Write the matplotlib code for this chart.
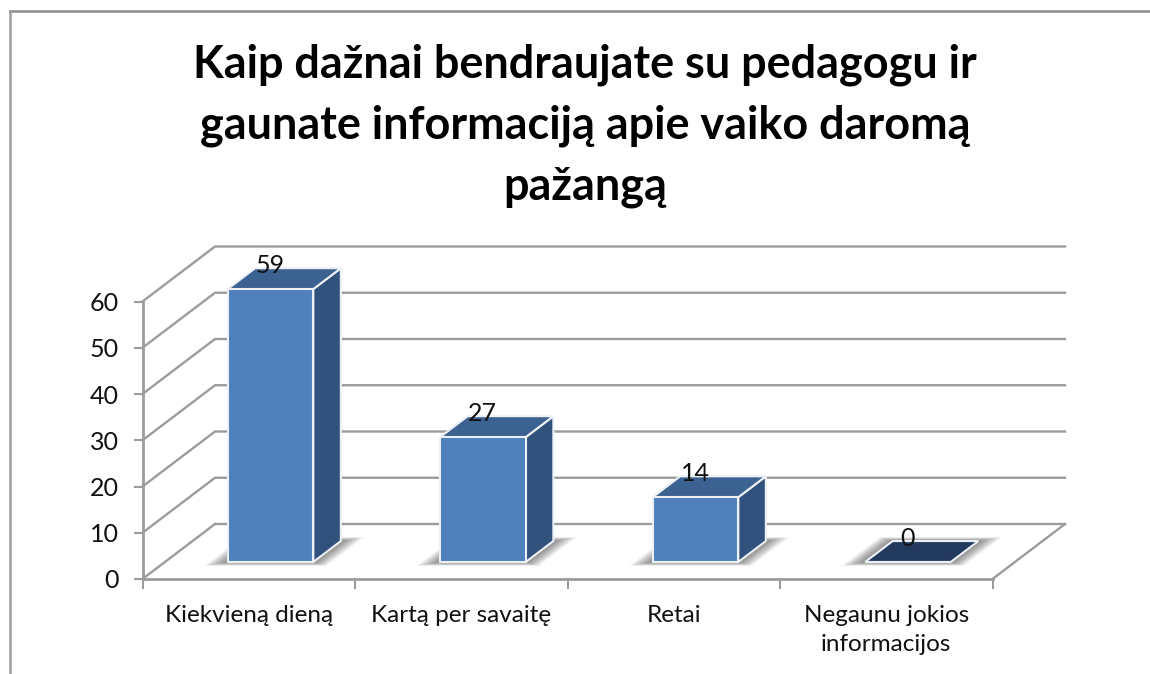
import matplotlib
matplotlib.use("Agg")
import matplotlib.pyplot as plt
from matplotlib.patches import Polygon
from matplotlib.lines import Line2D

plt.rcParams['font.family'] = ['Lato', 'DejaVu Sans']

title_text = "Kaip dažnai bendraujate su pedagogu ir\ngaunate informaciją apie vaiko daromą\npažangą"
categories = ["Kiekvieną dieną", "Kartą per savaitę", "Retai", "Negaunu jokios\ninformacijos"]
values = [59, 27, 14, 0]
y_ticks = [0, 10, 20, 30, 40, 50, 60]

W, H = 1150, 674
fig = plt.figure(figsize=(W / 100, H / 100), dpi=100, facecolor="white")

# axes rectangle is the front plane of the fake-3D chart
L, R, T, B = 142.5, 992.5, 301.5, 579.0
ax = fig.add_axes([L / W, 1 - B / H, (R - L) / W, (B - T) / H])
ax.set_xlim(0, len(categories))
ax.set_ylim(0, 60)
ax.axis("off")

DX = 72.5 / ((R - L) / 4)          # category units for full depth
DY = 55.0 / ((B - T) / 60)         # value units for full depth
GRID = "#9C9C9C"


def P(x, v, d=0.0):
    return (x + d * DX, v + d * DY)


def line(pts, color=GRID, lw=1.7, z=1):
    ax.add_line(Line2D(*zip(*pts), color=color, lw=lw, clip_on=False, zorder=z,
                       solid_capstyle="projecting"))


def poly(pts, z, **kw):
    ax.add_patch(Polygon(pts, closed=True, clip_on=False, zorder=z, **kw))


# gridlines on wall and side wall
n = len(categories)
for t in y_ticks:
    if t > 0:
        line([P(0, t), P(0, t, 1), P(n, t, 1)])
    ax.annotate(str(t), (0, t), xytext=(-24, -2), textcoords="offset pixels",
                ha="right", va="center", fontsize=18, color="#111111", annotation_clip=False)
    line([P(0, t), P(-0.035, t)], lw=1.5)

# floor and axes
line([P(0, 0), P(0, 0, 1)])
line([P(n, 0), P(n, 0, 1)])
line([P(0, 0, 1), P(n, 0, 1)])
line([P(0, 0), P(n, 0)], lw=2.0)
line([P(0, 0), P(0, 60)], lw=2.0)
for i in range(n + 1):
    line([P(i, 0), (i, -1.9)], lw=1.5)

# bars
x0, x1, d0, d1 = 0.295, 0.698, 0.31, 0.69
EDGE = "#EDF1F7"
LAYERS = 10
for i, v in enumerate(values):
    a, b = i + x0, i + x1
    # soft contact shadow built from stacked translucent outlines
    for k in range(LAYERS):
        f = (LAYERS - 1 - k) / (LAYERS - 1)
        g = f * 0.085
        h = f * 0.07
        poly([P(a - g, 0, d0 - h), P(b + g, 0, d0 - h),
              P(b + g, 0, d1 + h), P(a - g, 0, d1 + h)],
             3, facecolor="#000000", edgecolor="none", alpha=0.06)
    if v == 0:
        poly([P(a, 0, d0), P(b, 0, d0), P(b, 0, d1), P(a, 0, d1)], 4,
             facecolor="#223A5E", edgecolor=EDGE, lw=1.5)
    else:
        poly([P(b, 0, d0), P(b, 0, d1), P(b, v, d1), P(b, v, d0)], 4,
             facecolor="#31527D", edgecolor=EDGE, lw=1.5)
        poly([P(a, v, d0), P(b, v, d0), P(b, v, d1), P(a, v, d1)], 4,
             facecolor="#3C6291", edgecolor=EDGE, lw=1.5)
        poly([P(a, 0, d0), P(b, 0, d0), P(b, v, d0), P(a, v, d0)], 5,
             facecolor="#4F81BD", edgecolor=EDGE, lw=1.5)
    cx, cy = P(i + 0.5, v, 0.5)
    ax.annotate(str(v), (cx, cy), xytext=(-15, 6), textcoords="offset pixels",
                ha="center", va="baseline", fontsize=18, color="#111111",
                zorder=6, annotation_clip=False)

# category labels
for i, c in enumerate(categories):
    ax.annotate(c, (i + 0.5, 0), xytext=(0, -26), textcoords="offset pixels",
                ha="center", va="top", fontsize=17.5, color="#111111",
                linespacing=1.48, annotation_clip=False)

# title
fig.text(585 / W, 1 - 43 / H, title_text, ha="center", va="top", fontsize=32.4,
         fontweight="bold", color="black", linespacing=1.55)

# chart frame: only top and left edges are visible in the crop
fig.add_artist(Line2D([9.5 / W, 1], [1 - 11 / H, 1 - 11 / H], color="#8C8C8C", lw=1.8,
                      transform=fig.transFigure))
fig.add_artist(Line2D([9.5 / W, 9.5 / W], [0, 1 - 11 / H], color="#9C9C9C", lw=1.8,
                      transform=fig.transFigure))

fig.savefig("out.png", dpi=100, facecolor="white")
